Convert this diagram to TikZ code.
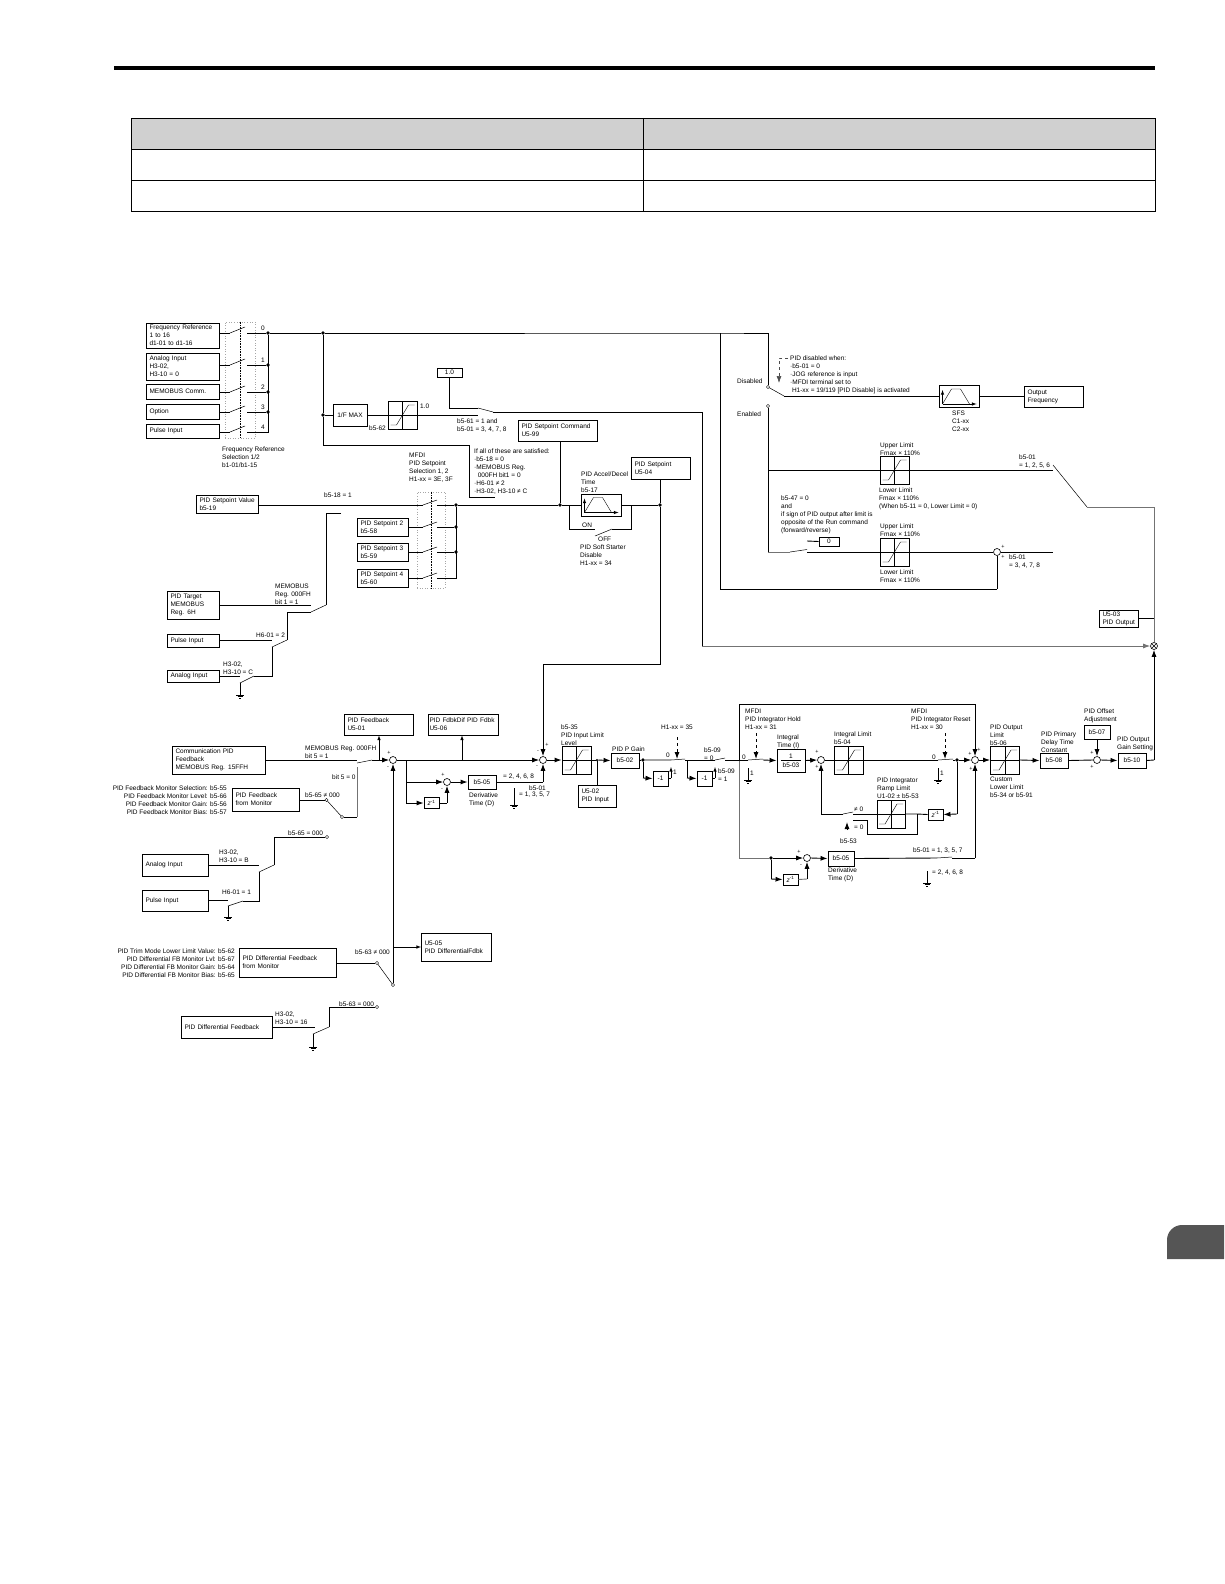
\documentclass[tikz,border=0pt]{standalone}
\usepackage{fontspec}
\setmainfont{Liberation Sans}
\usetikzlibrary{shapes.geometric,arrows.meta}
\definecolor{hdrgray}{HTML}{D0D0D0}
\definecolor{tabgray}{HTML}{555555}

\begin{document}
\begin{tikzpicture}[x=1pt,y=-1pt,
        every node/.style={font=\fontsize{6.5}{8}\selectfont},
        wire/.style={line width=.9pt},
        graywire/.style={line width=.9pt,black!55},
        arm/.style={line width=.5pt},
        tip/.style={line width=.9pt,-{Latex[length=7pt,width=5pt]}},
        graytip/.style={line width=.9pt,black!55,-{Latex[length=7pt,width=5pt]}},
        dashtip/.style={line width=.9pt,dashed,-{Latex[length=7pt,width=5pt]}},
        bx/.style 2 args={draw,line width=.9pt,inner xsep=3pt,inner ysep=0pt,text width=#1-5,minimum height=#2,align=left},
        cbx/.style 2 args={draw,line width=.9pt,inner sep=0pt,minimum width=#1,minimum height=#2,align=center},
        txt/.style={anchor=west,inner sep=0pt,align=left,yshift=-.8pt},
        rtxt/.style={anchor=east,inner sep=0pt,align=right,yshift=-.8pt},
        num/.style={inner sep=0pt},
        sgn/.style={inner sep=0pt,font=\fontsize{5.5}{6}\selectfont},
        dot/.style={circle,fill=black,inner sep=0pt,minimum size=3.6},
        sumnode/.style={circle,draw,fill=white,line width=.6pt,inner sep=0pt,minimum size=7},
        contact/.style={diamond,draw,fill=white,line width=.4pt,inner sep=0pt,minimum size=3.5},
        bank/.style={draw=black!35,dotted,line width=.6pt,inner sep=0pt},
        lim/.style={draw,line width=.9pt,inner sep=0pt,minimum width=29,minimum height=28,path picture={
                \draw[line width=.6pt] (path picture bounding box.north) -- (path picture bounding box.south);
                \draw[line width=.6pt] (path picture bounding box.west) -- (path picture bounding box.east);
                \draw[line width=.4pt] (path picture bounding box.center) ++(-12,10) -- ++(6,0) -- ++(12,-20) -- ++(6,0);}},
        ramp/.style={draw,line width=.9pt,inner sep=0pt,minimum width=40,minimum height=22,path picture={
                \draw[line width=.6pt,-latex] (path picture bounding box.center) ++(-16.5,7.5) -- ++(0,-14);
                \draw[line width=.6pt,-latex] (path picture bounding box.center) ++(-16.5,7.5) -- ++(34,0);
                \draw[line width=.4pt] (path picture bounding box.center) ++(-16.5,7.5) -- ++(9,-15) -- ++(9,0) -- ++(9,15);}},
        gnd/.pic={\draw[line width=.9pt] (-4,0) -- (4,0); \draw[line width=.9pt] (-2.5,1.5) -- (2.5,1.5); \draw[line width=.9pt] (-1,3) -- (1,3);}]
        \useasboundingbox (0,0) rectangle (1224,1584);

        \fill[black] (114,66) rectangle (1155,70);
        \fill[hdrgray] (131,118) rectangle (1155,149);
        \draw[line width=.9pt] (131,118) rectangle (1155,211);
        \draw[line width=.9pt] (131,149) -- (1155,149);
        \draw[line width=.9pt] (131,180) -- (1155,180);
        \draw[line width=.9pt] (643,118) -- (643,211);
        \fill[tabgray] (1224,1259) -- (1167,1259) [rounded corners=15] -- (1167,1225) [sharp corners] -- (1224,1225) -- cycle;

        \node[bx={72}{25}] (fref) at (183,335.5) {Frequency Reference\\1 to 16\\d1-01 to d1-16};
        \node[bx={72}{27}] (ainp) at (183,366.5) {Analog Input\\H3-02,\\H3-10 = 0};
        \node[bx={72}{15}] (mcomm) at (183,391.5) {MEMOBUS Comm.};
        \node[bx={72}{15}] (optn) at (183,411.5) {Option};
        \node[bx={72}{14}] (pinp) at (183,431) {Pulse Input};
        \node[bank,minimum width=30,minimum height=116] (bank1) at (240,380) {};
        \draw[densely dotted,line width=.6pt] (bank1.north) -- (bank1.south);
        \node[dot] (bus0) at (268,333) {};
        \node[dot] (bus1) at (268,365) {};
        \node[dot] (bus2) at (268,392) {};
        \node[dot] (bus3) at (268,412) {};
        \coordinate (bus4) at (268,432);
        \coordinate (sw0l) at (230,333); \coordinate (sw0r) at (247,333);
        \coordinate (sw1l) at (230,365); \coordinate (sw1r) at (247,365);
        \coordinate (sw2l) at (230,392); \coordinate (sw2r) at (247,392);
        \coordinate (sw3l) at (230,412); \coordinate (sw3r) at (247,412);
        \coordinate (sw4l) at (230,432); \coordinate (sw4r) at (247,432);
        \draw[wire] (fref.east |- bus0) -- (sw0l) (sw0r) -- (bus0);
        \draw[wire] (ainp.east |- bus1) -- (sw1l) (sw1r) -- (bus1);
        \draw[wire] (mcomm.east |- bus2) -- (sw2l) (sw2r) -- (bus2);
        \draw[wire] (optn.east |- bus3) -- (sw3l) (sw3r) -- (bus3);
        \draw[wire] (pinp.east |- bus4) -- (sw4l) (sw4r) -- (bus4) -- (bus0);
        \draw[arm] (sw0l) -- ++(15,-6);
        \draw[arm] (sw1l) -- ++(15,-6);
        \draw[arm] (sw2l) -- ++(15,-6);
        \draw[arm] (sw3l) -- ++(15,-6);
        \draw[arm] (sw4l) -- ++(15,-6);
        \node[num] (lab0) at (263,328) {0};
        \node[num] (lab1) at (263,360) {1};
        \node[num] (lab2) at (263,387) {2};
        \node[num] (lab3) at (263,407) {3};
        \node[num] (lab4) at (263,427) {4};
        \node[txt] (frefsel) at (222,456) {Frequency Reference\\Selection 1/2\\b1-01/b1-15};

        \node[dot] (jtop) at (323,333) {};
        \node[dot] (jgain) at (323,415) {};
        \coordinate (cr1) at (323,445);
        \coordinate (cr2) at (469,445);
        \coordinate (cr3) at (469,497);
        \coordinate (sw5t) at (495,497);
        \coordinate (cr4) at (720,333);
        \coordinate (cr5) at (720,589);
        \coordinate (topr) at (768,333);
        \node[contact] (disc) at (768,387) {};
        \node[contact] (enac) at (768,406) {};
        \draw[wire] (bus0) -- (jtop) -- (cr4) -- (topr) -- (disc);
        \draw[wire] (jtop) -- (jgain) -- (cr1) -- (cr2) -- (cr3) -- (sw5t);
        \node[cbx={34}{22}] (fmax) at (350,415) {1/F MAX};
        \node[lim] (limg) at (402.5,415) {};
        \node[txt] (lb562) at (369,427) {b5-62};
        \node[txt] (lbone) at (420,405) {1.0};
        \node[cbx={25}{9}] (one) at (449.5,372.5) {1.0};
        \coordinate (swa) at (478,408);
        \coordinate (swb) at (478,415);
        \coordinate (swk) at (493,412);
        \coordinate (cr7) at (702,412);
        \coordinate (cr6) at (702,646);
        \draw[wire] (jgain) -- (fmax.west) (fmax.east) -- (limg.west) (limg.east) -- (swb);
        \draw[wire] (one.south) -- (one.south |- swa) -- (swa);
        \draw[arm] (swa) -- (swk);
        \draw[wire] (swk) -- (cr7) -- (cr6);
        \node[txt] (lb561) at (457,424.5) {b5-61 = 1 and\\b5-01 = 3, 4, 7, 8};
        \node[bx={78}{21}] (cmd) at (558,430.5) {PID Setpoint Command\\U5-99};
        \node[txt] (lbif) at (474,470.5) {If all of these are satisfied:\\·b5-18 = 0\\·MEMOBUS Reg.\\\ \ 000FH bit1 = 0\\·H6-01 ≠ 2\\·H3-02, H3-10 ≠ C};
        \node[bx={58}{22}] (spoint) at (661,468) {PID Setpoint\\U5-04};
        \node[txt] (lb517) at (581,481) {PID Accel/Decel\\Time\\b5-17};
        \node[ramp] (ramp1) at (601,505) {};
        \node[dot] (jcmd) at (560,505) {};
        \node[dot] (jsp) at (660,505) {};
        \node[dot] (b6a) at (456,505) {};
        \node[dot] (b6b) at (456,527) {};
        \node[dot] (b6c) at (456,552) {};
        \coordinate (b6d) at (456,578);
        \coordinate (sw5l) at (495,505);
        \coordinate (sw5r) at (510,505);
        \coordinate (jon) at (569,505);
        \coordinate (con) at (569,529);
        \coordinate (sonl) at (595,529);
        \coordinate (sofl) at (595,536);
        \coordinate (sofr) at (612,529);
        \coordinate (croff) at (631,529);
        \coordinate (joff) at (631,505);
        \draw[wire] (b6a) -- (sw5l) (sw5r) -- (jcmd) -- (ramp1.west) (ramp1.east) -- (jsp);
        \draw[arm] (sw5l) -- (sw5r);
        \draw[wire] (cmd.south -| jcmd) -- (jcmd);
        \draw[wire] (jon) -- (con) -- (sonl);
        \draw[arm] (sofl) -- (sofr);
        \draw[wire] (sofr) -- (croff) -- (joff);
        \node[txt] (lbon) at (582,524) {ON};
        \node[txt] (lboff) at (598,538) {OFF};
        \node[txt] (lbsoft) at (580,554) {PID Soft Starter\\Disable\\H1-xx = 34};

        \node[bx={61}{18}] (spval) at (227.5,504) {PID Setpoint Value\\b5-19};
        \node[bx={50}{18}] (sp2) at (383,527) {PID Setpoint 2\\b5-58};
        \node[bx={50}{18}] (sp3) at (383,552) {PID Setpoint 3\\b5-59};
        \node[bx={50}{18}] (sp4) at (383,578) {PID Setpoint 4\\b5-60};
        \node[bank,minimum width=28,minimum height=96] (bank2) at (431,540) {};
        \draw[densely dotted,line width=.6pt] (bank2.north) -- (bank2.south);
        \node[txt] (lbmfdi) at (409,467) {MFDI\\PID Setpoint\\Selection 1, 2\\H1-xx = 3E, 3F};
        \node[txt] (lb518) at (324,494) {b5-18 = 1};
        \coordinate (sw6l) at (341,505);
        \coordinate (sw6r) at (356,505);
        \coordinate (sw6b) at (341,513);
        \coordinate (sw7a) at (423,505); \coordinate (sw7r) at (437,505);
        \coordinate (sw7b) at (423,527); \coordinate (sw7s) at (437,527);
        \coordinate (sw7c) at (423,552); \coordinate (sw7t) at (437,552);
        \coordinate (sw7d) at (423,578); \coordinate (sw7u) at (437,578);
        \draw[wire] (spval.east |- sw6l) -- (sw6l) (sw6r) -- (sw7a) (sw7r) -- (b6a);
        \draw[arm] (sw6l) -- (sw6r);
        \draw[wire] (sp2.east |- sw7b) -- (sw7b) (sw7s) -- (b6b);
        \draw[wire] (sp3.east |- sw7c) -- (sw7c) (sw7t) -- (b6c);
        \draw[wire] (sp4.east |- sw7d) -- (sw7d) (sw7u) -- (b6d) -- (b6a);
        \draw[arm] (sw7a) -- ++(14,-5);
        \draw[arm] (sw7b) -- ++(14,-5);
        \draw[arm] (sw7c) -- ++(14,-5);
        \draw[arm] (sw7d) -- ++(14,-5);

        \node[bx={51}{28}] (ptarget) at (193.5,605) {PID Target\\MEMOBUS\\Reg. 6H};
        \node[bx={51}{13}] (pls2) at (193.5,640.5) {Pulse Input};
        \node[bx={51}{12}] (anl2) at (193.5,676) {Analog Input};
        \node[txt] (lbmem) at (275,593) {MEMOBUS\\Reg. 000FH\\bit 1 = 1};
        \node[txt] (lbh601) at (256,634) {H6-01 = 2};
        \node[txt] (lbh302) at (223,667) {H3-02,\\H3-10 = C};
        \coordinate (cra) at (326,513);
        \coordinate (arma) at (326,605);
        \coordinate (armb) at (311,612);
        \coordinate (crb) at (287,612);
        \coordinate (armc) at (287,640);
        \coordinate (armd) at (272,647);
        \coordinate (crc) at (272,676);
        \coordinate (arme) at (254,676);
        \coordinate (armf) at (240,683);
        \coordinate (gnda) at (240,695);
        \draw[wire] (sw6b) -- (cra) -- (arma);
        \draw[arm] (arma) -- (armb);
        \draw[wire] (ptarget.east) -- (ptarget.east -| armb);
        \draw[wire] (armb) -- (crb) -- (armc);
        \draw[arm] (armc) -- (armd);
        \draw[wire] (pls2.east) -- (pls2.east -| armd);
        \draw[wire] (armd) -- (crc) -- (arme);
        \draw[arm] (arme) -- (armf);
        \draw[wire] (anl2.east) -- (anl2.east -| armf);
        \draw[wire] (armf) -- (gnda);
        \pic at (gnda) {gnd};

        \coordinate (swdis) at (784,396);
        \node[ramp] (sfs) at (959,396.5) {};
        \node[bx={58}{21}] (ofreq) at (1054,396.5) {Output\\Frequency};
        \draw[arm] (disc) -- (swdis);
        \draw[wire] (swdis) -- (sfs.west |- swdis) (sfs.east) -- (ofreq.west);
        \node[txt] (lbdis) at (737,380) {Disabled};
        \node[txt] (lbena) at (737,413) {Enabled};
        \coordinate (dasha) at (788,358);
        \coordinate (dashb) at (779,358);
        \coordinate (dashc) at (779,383);
        \draw[dashtip,line width=.6pt,black!70] (dasha) -- (dashb) -- (dashc);
        \node[txt] (lbpid) at (790,374) {PID disabled when:\\·b5-01 = 0\\·JOG reference is input\\·MFDI terminal set to\\\ H1-xx = 19/119 [PID Disable] is activated};
        \node[txt] (lbsfs) at (952,420.5) {SFS\\C1-xx\\C2-xx};
        \node[lim] (lim1) at (894.5,470) {};
        \node[lim] (lim2) at (894.5,552) {};
        \node[txt] (lbup1) at (880,448) {Upper Limit\\Fmax × 110\%};
        \node[txt] (lblo1) at (879,498) {Lower Limit\\Fmax × 110\%\\(When b5-11 = 0, Lower Limit = 0)};
        \node[txt] (lbup2) at (880,529) {Upper Limit\\Fmax × 110\%};
        \node[txt] (lblo2) at (880,575) {Lower Limit\\Fmax × 110\%};
        \node[txt] (lb547) at (781,514) {b5-47 = 0\\and\\if sign of PID output after limit is\\opposite of the Run command\\(forward/reverse)};
        \node[cbx={20}{9}] (zero) at (829,541.5) {0};
        \node[sumnode] (sumlim) at (997,552) {};
        \node[sgn] (pa1) at (1003,547) {+};
        \node[sgn] (pa2) at (1003,557) {+};
        \node[txt] (lbv1) at (1019,461) {b5-01\\= 1, 2, 5, 6};
        \node[txt] (lbv2) at (1009,561) {b5-01\\= 3, 4, 7, 8};
        \coordinate (jen) at (768,470);
        \coordinate (endt) at (1053,470);
        \coordinate (elb) at (768,552);
        \coordinate (swl) at (790,552);
        \coordinate (swr) at (807,552);
        \coordinate (swt) at (807,541);
        \coordinate (endb) at (1053,552);
        \coordinate (armx) at (1053,465);
        \coordinate (kink) at (1087,507);
        \coordinate (crr) at (1154,507);
        \draw[wire] (enac) -- (jen) -- (lim1.west) (lim1.east) -- (endt);
        \draw[wire] (jen) -- (elb);
        \draw[graywire] (elb) -- (swl);
        \draw[arm] (swl) -- ++(17,-2.5);
        \draw[wire] (zero.west) -- (swt);
        \draw[wire] (swr) -- (lim2.west) (lim2.east) -- (sumlim.west) (sumlim.east) -- (endb);
        \draw[wire] (cr5 -| sumlim) -- (sumlim.south);
        \draw[wire] (cr4) -- (cr5) -- (cr5 -| sumlim);
        \draw[arm] (armx) -- (kink);
        \draw[graywire] (kink) -- (crr);

        \node[circle,draw,line width=.6pt,inner sep=0pt,minimum size=7,path picture={
                \draw[line width=.5pt] (path picture bounding box.north west) -- (path picture bounding box.south east);
                \draw[line width=.5pt] (path picture bounding box.south west) -- (path picture bounding box.north east);}] (mult) at (1154,646) {};
        \draw[graywire] (crr) -- (mult.north);
        \draw[graytip] (cr6) -- (mult.west);
        \node[bx={38}{17}] (u503) at (1119,618.5) {U5-03\\PID Output};
        \draw[wire] (u503.east) -- (u503.east -| mult);

        \node[bx={92}{28}] (comm) at (219,760) {Communication PID\\Feedback\\MEMOBUS Reg. 15FFH};
        \node[bx={68}{21}] (fbu) at (379,724.5) {PID Feedback\\U5-01};
        \node[bx={70}{21},inner xsep=1.5pt,text width=67] (fdd) at (463,724.5) {PID FdbkDif PID Fdbk\\U5-06};
        \node[sumnode] (sumfb) at (393,760) {};
        \node[sgn] (pb1) at (389,753) {+};
        \node[sgn] (pb2) at (388,768) {-};
        \node[txt] (lbmem5) at (305,751) {MEMOBUS Reg. 000FH\\bit 5 = 1};
        \node[txt] (lbbit0) at (332,776) {bit 5 = 0};
        \node[txt] (lb65n) at (305,794) {b5-65 ≠ 000};
        \node[txt] (lb65e) at (288,832) {b5-65 = 000};
        \node[rtxt] (lbmon) at (227,799) {PID Feedback Monitor Selection: b5-55\\PID Feedback Monitor Level: b5-66\\PID Feedback Monitor Gain: b5-56\\PID Feedback Monitor Bias: b5-57};
        \node[bx={66}{23}] (fbmon) at (266,799.5) {PID Feedback\\from Monitor};
        \node[contact] (dma) at (326.5,800) {};
        \node[contact] (dmb) at (342,817) {};
        \node[contact] (dmc) at (327,837) {};
        \coordinate (swcl) at (357,760);
        \coordinate (swca) at (357,763);
        \coordinate (swcr) at (372,760);
        \coordinate (swcb) at (357,767);
        \coordinate (crd) at (357,817);
        \coordinate (jfb) at (379,760);
        \draw[wire] (comm.east) -- (swcl);
        \draw[arm] (swca) -- (swcr);
        \draw[tip] (swcr) -- (sumfb.west);
        \draw[line width=.6pt,-latex] (jfb) -- (fbu.south -| jfb);
        \draw[graywire] (swcb) -- (crd);
        \draw[wire] (crd) -- (dmb);
        \draw[wire] (fbmon.east |- dma) -- (dma);
        \draw[arm] (dma) -- (dmb);

        \node[bx={65}{22}] (anl3) at (175.5,865) {Analog Input};
        \node[bx={65}{21}] (pls3) at (175.5,900.5) {Pulse Input};
        \node[txt] (lbb302) at (219,855) {H3-02,\\H3-10 = B};
        \node[txt] (lbb601) at (222,891) {H6-01 = 1};
        \coordinate (cre) at (274,837);
        \coordinate (armg) at (274,865);
        \coordinate (armh) at (259,872);
        \coordinate (crf) at (259,901);
        \coordinate (armi) at (243,901);
        \coordinate (armj) at (228,906);
        \coordinate (gndb) at (228,917);
        \draw[wire] (dmc) -- (cre) -- (armg);
        \draw[arm] (armg) -- (armh);
        \draw[wire] (anl3.east) -- (anl3.east -| armh);
        \draw[wire] (armh) -- (crf) -- (armi);
        \draw[arm] (armi) -- (armj);
        \draw[wire] (pls3.east) -- (pls3.east -| armj);
        \draw[wire] (armj) -- (gndb);
        \pic at (gndb) {gnd};

        \node[rtxt] (lbtrim) at (235,962.5) {PID Trim Mode Lower Limit Value: b5-62\\PID Differential FB Monitor Lvl: b5-67\\PID Differential FB Monitor Gain: b5-64\\PID Differential FB Monitor Bias: b5-65};
        \node[bx={96}{29}] (dmon) at (288,962.5) {PID Differential Feedback\\from Monitor};
        \node[contact] (dmd) at (377,963) {};
        \node[contact] (dme) at (393,985) {};
        \node[contact] (dmf) at (377,1007) {};
        \node[bx={69}{28}] (u505) at (456.5,947) {U5-05\\PID DifferentialFdbk};
        \node[txt] (lb63n) at (355,951) {b5-63 ≠ 000};
        \node[txt] (lb63e) at (339,1003) {b5-63 = 000};
        \node[bx={90}{22}] (dfb) at (227,1027) {PID Differential Feedback};
        \node[txt] (lbd302) at (275,1017) {H3-02,\\H3-10 = 16};
        \coordinate (jdf) at (393,947);
        \coordinate (crg) at (329,1007);
        \coordinate (armk) at (329,1027);
        \coordinate (arml) at (313,1034);
        \coordinate (swdl) at (315,1027);
        \coordinate (gndc) at (313,1047);
        \draw[wire] (dmon.east |- dmd) -- (dmd);
        \draw[arm] (dmd) -- (dme);
        \draw[tip] (dme) -- (sumfb.south);
        \draw[line width=.6pt,-latex] (jdf) -- (u505.west);
        \draw[wire] (dmf) -- (crg) -- (armk);
        \draw[arm] (armk) -- (arml);
        \draw[wire] (dfb.east) -- (swdl);
        \draw[wire] (arml) -- (gndc);
        \pic at (gndc) {gnd};

        \node[sumnode] (sum2) at (543,760) {};
        \node[sumnode] (sum3) at (447,782) {};
        \node[cbx={15}{11}] (zfb) at (431.5,803) {\textit{z}\textsuperscript{-1}};
        \node[cbx={28}{14}] (dfbk) at (482,782) {b5-05};
        \node[sgn] (pc1) at (547,745) {+};
        \node[sgn] (pc2) at (538,752) {-};
        \node[sgn] (pc3) at (537,767) {-};
        \node[sgn] (pd1) at (443,775) {+};
        \node[sgn] (pd2) at (442,790) {-};
        \node[txt] (lbder1) at (469,799) {Derivative\\Time (D)};
        \node[txt] (lb2468) at (503,776) {= 2, 4, 6, 8};
        \node[txt] (lbb501) at (529,787) {b5-01};
        \node[txt] (lb1357) at (519,794) {= 1, 3, 5, 7};
        \coordinate (jfa) at (406,760);
        \coordinate (jfb2) at (406,782);
        \coordinate (jfc) at (406,803);
        \coordinate (jfd) at (462,760);
        \coordinate (crh) at (447,803);
        \coordinate (swel) at (515,782);
        \coordinate (swer) at (529,782);
        \coordinate (swes) at (514,788);
        \coordinate (cri) at (543,782);
        \coordinate (gndd) at (514,805);
        \coordinate (cr8) at (660,664);
        \coordinate (cr9) at (543,664);
        \draw[tip] (sumfb.east) -- (sum2.west);
        \draw[line width=.6pt,-latex] (jfd) -- (fdd.south -| jfd);
        \draw[wire] (jfa) -- (jfc);
        \draw[tip] (jfb2) -- (sum3.west);
        \draw[tip] (jfc) -- (zfb.west);
        \draw[wire] (zfb.east) -- (crh);
        \draw[tip] (crh) -- (sum3.south);
        \draw[tip] (sum3.east) -- (dfbk.west);
        \draw[wire] (dfbk.east) -- (swel);
        \draw[arm] (swel) -- (swer);
        \draw[wire] (swer) -- (cri);
        \draw[tip] (cri) -- (sum2.south);
        \draw[wire] (swes) -- (gndd);
        \pic at (gndd) {gnd};
        \draw[wire] (spoint.south -| jsp) -- (jsp) -- (cr8) -- (cr9);
        \draw[tip] (cr9) -- (sum2.north);

        \node[lim] (lim3) at (576.5,760) {};
        \node[txt] (lb535) at (561,734) {b5-35\\PID Input Limit\\Level};
        \node[dot,minimum size=2.5] (jin) at (597,760) {};
        \node[bx={37}{22}] (u502) at (597.5,796) {U5-02\\PID Input};
        \node[cbx={28}{15}] (pgain) at (625,760.5) {b5-02};
        \node[txt] (lbpg) at (612,748) {PID P Gain};
        \node[dot] (jp) at (643,760) {};
        \node[cbx={15}{15}] (neg1) at (660.5,778.5) {-1};
        \node[cbx={15}{15}] (neg2) at (704.5,778.5) {-1};
        \node[txt] (lbz1) at (666,754) {0};
        \node[txt] (lbo1) at (673,771) {1};
        \node[txt] (lbh35) at (661,726) {H1-xx = 35};
        \node[txt] (lb509a) at (704,753) {b5-09\\= 0};
        \node[txt] (lb509b) at (718,774) {b5-09\\= 1};
        \coordinate (swfl) at (671,760);
        \coordinate (swfr) at (685,760);
        \coordinate (swfb) at (671,767);
        \coordinate (crj) at (671,778);
        \coordinate (jneg) at (687,760);
        \coordinate (crk) at (687,778);
        \coordinate (swgl) at (715,760);
        \coordinate (swgr) at (725,760);
        \coordinate (swgb) at (715,767);
        \coordinate (crl) at (715,778);
        \coordinate (crm) at (643,778);
        \coordinate (dsha) at (677,737);
        \coordinate (dshb) at (677,759);
        \draw[tip] (sum2.east) -- (lim3.west);
        \draw[wire] (lim3.east) -- (jin);
        \draw[tip] (jin) -- (pgain.west);
        \draw[wire] (u502.north -| jin) -- (jin);
        \draw[wire] (pgain.east) -- (jp) -- (swfl);
        \draw[arm] (swfl) -- ++(14,-1);
        \draw[wire] (jp) -- (crm);
        \draw[tip] (crm) -- (neg1.west);
        \draw[wire] (neg1.east |- crj) -- (crj);
        \draw[line width=.6pt,-latex] (crj) -- (swfb);
        \draw[wire] (swfr) -- (swgl);
        \draw[arm] (swgl) -- ++(10,-2);
        \draw[wire] (jneg) -- (crk);
        \draw[tip] (crk) -- (neg2.west);
        \draw[wire] (neg2.east |- crl) -- (crl);
        \draw[line width=.6pt,-latex] (crl) -- (swgb);
        \draw[dashtip] (dsha) -- (dshb);

        \node[cbx={28}{23},path picture={\draw[line width=.5pt] ([xshift=4]path picture bounding box.west) -- ([xshift=-4]path picture bounding box.east);}] (itime) at (791,760.5) {1\\[1pt]b5-03};
        \node[sumnode] (sum4) at (821,760) {};
        \node[lim] (lim4) at (848.5,760) {};
        \node[sumnode] (sum5) at (975,760) {};
        \node[dot] (jo) at (957,760) {};
        \node[cbx={15}{11}] (zi) at (935.5,814.5) {\textit{z}\textsuperscript{-1}};
        \node[lim,minimum width=28] (limr) at (891,814) {};
        \node[sumnode] (sum6) at (807,858) {};
        \node[dot] (jd) at (771,858) {};
        \node[cbx={15}{11}] (zd) at (790.5,879.5) {\textit{z}\textsuperscript{-1}};
        \node[cbx={26}{15}] (dtim) at (841,858.5) {b5-05};
        \node[txt] (lbhold) at (745,718) {MFDI\\PID Integrator Hold\\H1-xx = 31};
        \node[txt] (lbreset) at (911,718) {MFDI\\PID Integrator Reset\\H1-xx = 30};
        \node[txt] (lbitime) at (777,741) {Integral\\Time (I)};
        \node[txt] (lbilim) at (834,737) {Integral Limit\\b5-04};
        \node[txt] (lbramp) at (877,787) {PID Integrator\\Ramp Limit\\U1-02 ± b5-53};
        \node[txt] (lbne0) at (854,808) {≠ 0};
        \node[txt] (lbeq0) at (854,826) {= 0};
        \node[txt] (lb553) at (840,840) {b5-53};
        \node[txt] (lbder2) at (828,874) {Derivative\\Time (D)};
        \node[txt] (lbv1357) at (913,850) {b5-01 = 1, 3, 5, 7};
        \node[txt] (lbv2468) at (932,872) {= 2, 4, 6, 8};
        \node[txt] (lbz2) at (742,756) {0};
        \node[txt] (lbo2) at (750,772) {1};
        \node[txt] (lbz3) at (932,756) {0};
        \node[txt] (lbo3) at (940,772) {1};
        \node[sgn] (pe1) at (817,752) {+};
        \node[sgn] (pe2) at (817,767) {+};
        \node[sgn] (pf1) at (799,852) {+};
        \node[sgn] (pf2) at (801,866) {-};
        \node[sgn] (pg1) at (970,754) {+};
        \node[sgn] (pg2) at (979,750) {+};
        \node[sgn] (pg3) at (971,769) {+};
        \coordinate (jbig) at (739,760);
        \coordinate (crn) at (739,704);
        \coordinate (cro) at (975,704);
        \coordinate (crp) at (739,858);
        \coordinate (crq) at (771,879);
        \coordinate (crs) at (807,879);
        \coordinate (swhl) at (748,760);
        \coordinate (swhr) at (763,760);
        \coordinate (swhb) at (748,768);
        \coordinate (gnde) at (748,780);
        \coordinate (swil) at (938,760);
        \coordinate (swir) at (953,760);
        \coordinate (swib) at (938,768);
        \coordinate (gndf) at (938,780);
        \coordinate (crt) at (957,814);
        \coordinate (jr) at (917,814);
        \coordinate (swjr) at (853,814);
        \coordinate (swjl) at (843,814);
        \coordinate (swjb) at (853,820);
        \coordinate (cru) at (821,814);
        \coordinate (crv) at (867,820);
        \coordinate (crw) at (867,834);
        \coordinate (crx) at (917,834);
        \coordinate (dkl) at (937,858);
        \coordinate (dkr) at (952,858);
        \coordinate (cry) at (975,858);
        \coordinate (crz) at (927,871);
        \coordinate (gndg) at (927,883);
        \coordinate (dsc) at (756,733);
        \coordinate (dsd) at (756,759);
        \coordinate (dse) at (945,733);
        \coordinate (dsf) at (945,759);
        \coordinate (tipa) at (847,830);
        \coordinate (tipb) at (847,822);
        \draw[wire] (swgr) -- (jbig) -- (crn) -- (cro);
        \draw[tip] (cro) -- (sum5.north);
        \draw[graywire] (jbig) -- (crp) -- (jd);
        \draw[tip] (jd) -- (sum6.west);
        \draw[wire] (jd) -- (crq);
        \draw[tip] (crq) -- (zd.west);
        \draw[graywire] (zd.east) -- (crs);
        \draw[tip] (crs) -- (sum6.south);
        \draw[tip] (sum6.east) -- (dtim.west);
        \draw[wire] (dtim.east) -- (dkl);
        \draw[arm] (dkl) -- ++(15,-1);
        \draw[wire] (dkr) -- (cry);
        \draw[tip] (cry) -- (sum5.south);
        \draw[wire] (crz) -- (gndg);
        \pic at (gndg) {gnd};
        \draw[wire] (jbig) -- (swhl);
        \draw[arm] (swhl) -- ++(15,-1);
        \draw[tip] (swhr) -- (itime.west);
        \draw[tip] (itime.east) -- (sum4.west);
        \draw[wire] (sum4.east) -- (lim4.west);
        \draw[wire] (lim4.east) -- (swil);
        \draw[arm] (swil) -- ++(15,-1);
        \draw[wire] (swir) -- (jo);
        \draw[tip] (jo) -- (sum5.west);
        \draw[wire] (swhb) -- (gnde);
        \pic at (gnde) {gnd};
        \draw[wire] (swib) -- (gndf);
        \pic at (gndf) {gnd};
        \draw[wire] (jo) -- (crt);
        \draw[tip] (crt) -- (zi.east);
        \draw[wire] (zi.west) -- (jr) -- (limr.east);
        \draw[wire] (limr.west) -- (swjr);
        \draw[arm] (swjl) -- ++(10,-2);
        \draw[wire] (swjl) -- (cru);
        \draw[tip] (cru) -- (sum4.south);
        \draw[wire] (swjb) -- (crv) -- (crw) -- (crx) -- (jr);
        \draw[tip] (tipa) -- (tipb);
        \draw[dashtip] (dsc) -- (dsd);
        \draw[dashtip] (dse) -- (dsf);

        \node[lim] (lim5) at (1005,760) {};
        \node[txt] (lb506) at (990,734) {PID Output\\Limit\\b5-06};
        \node[txt] (lbcust) at (990,786) {Custom\\Lower Limit\\b5-34 or b5-91};
        \node[cbx={28}{15}] (delay) at (1054,760.5) {b5-08};
        \node[txt] (lb508) at (1041,741.5) {PID Primary\\Delay Time\\Constant};
        \node[sumnode] (sum7) at (1097,760) {};
        \node[cbx={26}{14}] (offs) at (1097,732) {b5-07};
        \node[txt] (lboffs) at (1084,715) {PID Offset\\Adjustment};
        \node[sgn] (ph1) at (1092,753) {+};
        \node[sgn] (ph2) at (1092,767) {+};
        \node[cbx={28}{15}] (gain) at (1132,760.5) {b5-10};
        \node[txt] (lbgain) at (1117,743.5) {PID Output\\Gain Setting};
        \coordinate (crgain) at (1154,760);
        \draw[tip] (sum5.east) -- (lim5.west);
        \draw[tip] (lim5.east) -- (delay.west);
        \draw[wire] (delay.east) -- (sum7.west);
        \draw[tip] (offs.south) -- (sum7.north);
        \draw[tip] (sum7.east) -- (gain.west);
        \draw[wire] (gain.east) -- (crgain);
        \draw[tip] (crgain) -- (mult.south);
    \end{tikzpicture}
\end{document}
